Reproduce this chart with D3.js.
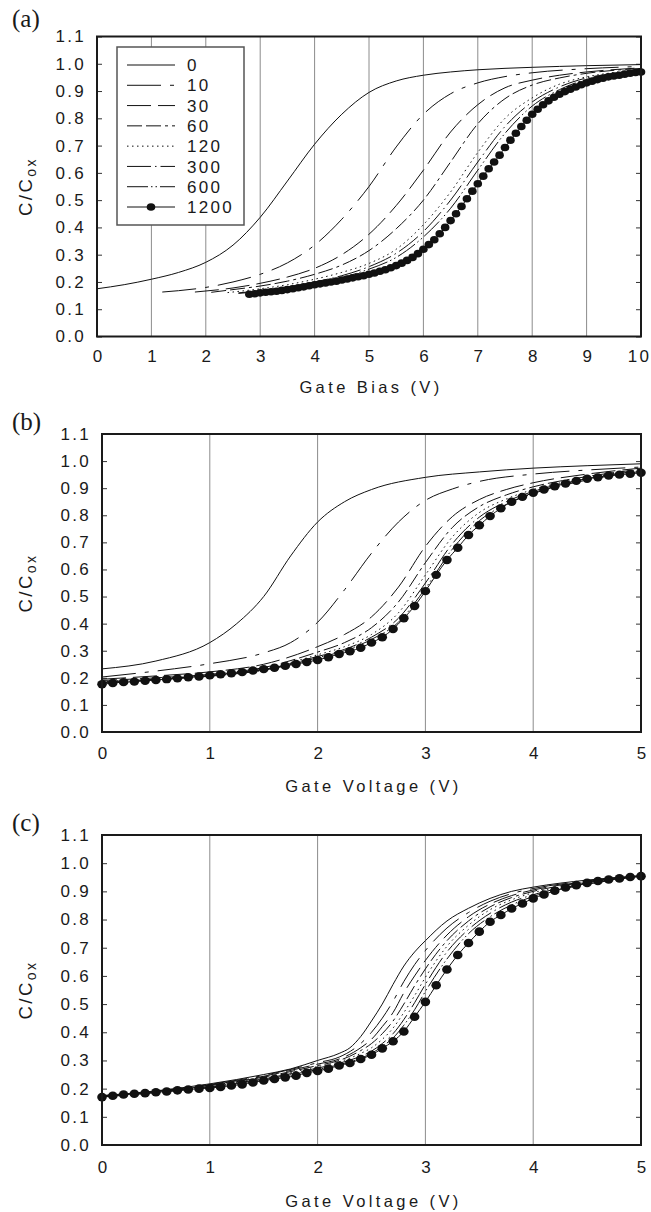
<!DOCTYPE html>
<html>
<head>
<meta charset="utf-8">
<script src="https://cdn.jsdelivr.net/npm/d3@7"></script>
<style>
  body { margin: 0; background: #fff; }
  svg text { font-family: "Liberation Sans", Arial, sans-serif; fill: #1a1a1a; }
</style>
</head>
<body>
<svg id="chart" width="651" height="1212"></svg>
<script>
// stress times (legend entries)
const seriesNames = ["0", "10", "30", "60", "120", "300", "600", "1200"];
const cTicks = [0, 0.1, 0.2, 0.3, 0.4, 0.5, 0.6, 0.7, 0.8, 0.9, 1.0, 1.1];
const biasTicks = [0, 1, 2, 3, 4, 5, 6, 7, 8, 9, 10];
const voltTicks = [0, 1, 2, 3, 4, 5];

// ---- panel (a): C/Cox vs gate bias ----
const a0 = [[0,.175],[0.5,.19],[1,.21],[1.5,.235],[2,.272],[2.5,.335],[3,.437],[3.5,.57],[4,.705],[4.5,.815],[5,.895],[5.5,.937],[6,.958],[6.5,.97],[7,.978],[8,.987],[9,.993],[10,.997]];
const a10 = [[1.2,.163],[1.5,.168],[2,.18],[2.5,.2],[3,.228],[3.5,.27],[4,.335],[4.5,.43],[5,.55],[5.5,.695],[6,.815],[6.5,.89],[7,.93],[7.5,.953],[8,.967],[9,.982],[10,.99]];
const a30 = [[1.8,.163],[2.5,.178],[3,.195],[3.5,.218],[4,.25],[4.5,.3],[5,.375],[5.5,.48],[6,.61],[6.5,.75],[7,.85],[7.5,.912],[8,.94],[8.5,.958],[9,.97],[10,.985]];
const a60 = [[2.1,.162],[2.5,.172],[3,.185],[3.5,.203],[4,.228],[4.5,.262],[5,.315],[5.5,.395],[6,.5],[6.5,.64],[7,.78],[7.5,.872],[8,.922],[8.5,.948],[9,.965],[10,.983]];
const a120 = [[2.4,.161],[3,.175],[3.5,.19],[4,.21],[4.5,.235],[5,.268],[5.5,.32],[6,.41],[6.5,.53],[7,.675],[7.5,.8],[8,.875],[8.5,.925],[9,.952],[9.5,.968],[10,.98]];
const a300 = [[2.6,.16],[3,.168],[3.5,.182],[4,.2],[4.5,.223],[5,.256],[5.5,.305],[6,.385],[6.5,.5],[7,.64],[7.5,.77],[8,.86],[8.5,.915],[9,.948],[9.5,.965],[10,.978]];
const a600 = [[2.6,.158],[3,.165],[3.5,.178],[4,.195],[4.5,.216],[5,.247],[5.5,.29],[6,.365],[6.5,.47],[7,.61],[7.5,.745],[8,.845],[8.5,.905],[9,.943],[9.5,.962],[10,.975]];
const a1200V = [2.8,2.9,3.0,3.1,3.2,3.3,3.4,3.5,3.6,3.7,3.8,3.9,4.0,4.1,4.2,4.3,4.4,4.5,4.6,4.7,4.8,4.9,5.0,5.1,5.2,5.3,5.4,5.5,5.6,5.7,5.8,5.9,6.0,6.1,6.2,6.3,6.4,6.5,6.6,6.7,6.8,6.9,7.0,7.1,7.2,7.3,7.4,7.5,7.6,7.7,7.8,7.9,8.0,8.1,8.2,8.3,8.4,8.5,8.6,8.7,8.8,8.9,9.0,9.1,9.2,9.3,9.4,9.5,9.6,9.7,9.8,9.9,10.0];
const a1200C = [.155,.157,.160,.162,.164,.166,.169,.172,.175,.179,.182,.186,.190,.193,.196,.200,.203,.207,.211,.215,.219,.223,.228,.233,.239,.245,.252,.260,.269,.279,.290,.304,.320,.337,.355,.377,.400,.425,.450,.477,.505,.533,.560,.588,.615,.640,.665,.693,.720,.745,.770,.793,.815,.833,.850,.864,.877,.888,.898,.907,.915,.923,.930,.936,.942,.947,.952,.955,.958,.962,.965,.968,.970];

// ---- panel (b): C/Cox vs gate voltage ----
const b0 = [[0,.233],[0.5,.262],[1,.33],[1.25,.4],[1.5,.5],[1.75,.65],[2,.775],[2.25,.85],[2.5,.895],[3,.94],[3.5,.96],[4,.974],[4.5,.983],[5,.99]];
const b10 = [[0,.203],[0.5,.225],[1,.252],[1.5,.292],[1.75,.33],[2,.405],[2.25,.525],[2.5,.66],[2.75,.775],[3,.855],[3.25,.897],[3.5,.925],[4,.952],[4.5,.967],[5,.978]];
const b30 = [[0,.195],[0.5,.207],[1,.222],[1.5,.25],[2,.315],[2.25,.36],[2.5,.425],[2.75,.535],[3,.685],[3.25,.795],[3.5,.858],[3.75,.895],[4,.92],[4.5,.952],[5,.974]];
const b60 = [[0,.19],[0.5,.2],[1,.213],[1.5,.238],[2,.295],[2.25,.33],[2.5,.385],[2.75,.48],[3,.625],[3.25,.755],[3.5,.832],[3.75,.875],[4,.905],[4.5,.943],[5,.97]];
const b120 = [[0,.186],[0.5,.197],[1,.21],[1.5,.233],[2,.285],[2.25,.315],[2.5,.36],[2.75,.44],[3,.58],[3.25,.72],[3.5,.81],[3.75,.86],[4,.895],[4.5,.938],[5,.968]];
const b300 = [[0,.184],[0.5,.195],[1,.208],[1.5,.23],[2,.279],[2.25,.305],[2.5,.35],[2.75,.42],[3,.55],[3.25,.695],[3.5,.793],[3.75,.85],[4,.888],[4.5,.935],[5,.965]];
const b600 = [[0,.182],[0.5,.193],[1,.206],[1.5,.228],[2,.274],[2.25,.3],[2.5,.342],[2.75,.405],[3,.53],[3.25,.675],[3.5,.78],[3.75,.84],[4,.88],[4.5,.93],[5,.962]];
const v1200 = [0.0,0.1,0.2,0.3,0.4,0.5,0.6,0.7,0.8,0.9,1.0,1.1,1.2,1.3,1.4,1.5,1.6,1.7,1.8,1.9,2.0,2.1,2.2,2.3,2.4,2.5,2.6,2.7,2.8,2.9,3.0,3.1,3.2,3.3,3.4,3.5,3.6,3.7,3.8,3.9,4.0,4.1,4.2,4.3,4.4,4.5,4.6,4.7,4.8,4.9,5.0];
const b1200C = [.176,.181,.184,.186,.189,.192,.195,.198,.202,.205,.209,.213,.217,.221,.227,.232,.237,.244,.251,.258,.266,.276,.288,.298,.311,.330,.350,.380,.420,.465,.520,.580,.635,.680,.727,.763,.797,.826,.850,.868,.883,.895,.907,.917,.927,.935,.940,.947,.950,.953,.957];

// ---- panel (c): C/Cox vs gate voltage ----
const c0 = [[0,.175],[0.5,.192],[1,.217],[1.5,.25],[1.75,.27],[2,.3],[2.2,.325],[2.3,.345],[2.4,.385],[2.5,.44],[2.6,.5],[2.7,.57],[2.8,.635],[2.9,.685],[3,.725],[3.2,.795],[3.4,.84],[3.6,.875],[3.8,.9],[4,.915],[4.5,.94],[5,.956]];
const c10 = [[0,.175],[0.5,.191],[1,.215],[1.5,.247],[2,.292],[2.2,.312],[2.4,.36],[2.5,.4],[2.6,.45],[2.7,.51],[2.8,.58],[2.9,.64],[3,.69],[3.2,.77],[3.4,.825],[3.6,.865],[3.8,.892],[4,.91],[4.5,.937],[5,.955]];
const c30 = [[0,.174],[0.5,.19],[1,.213],[1.5,.244],[2,.287],[2.2,.305],[2.4,.345],[2.5,.375],[2.6,.42],[2.7,.47],[2.8,.54],[2.9,.6],[3,.655],[3.2,.745],[3.4,.81],[3.6,.855],[3.8,.885],[4,.905],[4.5,.935],[5,.955]];
const c60 = [[0,.173],[0.5,.189],[1,.211],[1.5,.241],[2,.282],[2.2,.3],[2.4,.335],[2.5,.36],[2.6,.395],[2.7,.44],[2.8,.5],[2.9,.565],[3,.625],[3.2,.725],[3.4,.795],[3.6,.845],[3.8,.878],[4,.9],[4.5,.933],[5,.955]];
const c120 = [[0,.172],[0.5,.188],[1,.209],[1.5,.238],[2,.278],[2.2,.295],[2.4,.325],[2.5,.345],[2.6,.375],[2.7,.415],[2.8,.47],[2.9,.53],[3,.595],[3.2,.705],[3.4,.78],[3.6,.835],[3.8,.87],[4,.895],[4.5,.93],[5,.954]];
const c300 = [[0,.171],[0.5,.187],[1,.207],[1.5,.235],[2,.273],[2.2,.29],[2.4,.315],[2.5,.333],[2.6,.36],[2.7,.395],[2.8,.445],[2.9,.505],[3,.57],[3.2,.685],[3.4,.765],[3.6,.822],[3.8,.862],[4,.888],[4.5,.928],[5,.954]];
const c600 = [[0,.17],[0.5,.186],[1,.205],[1.5,.232],[2,.268],[2.2,.285],[2.4,.308],[2.5,.325],[2.6,.35],[2.7,.38],[2.8,.425],[2.9,.48],[3,.545],[3.2,.66],[3.4,.75],[3.6,.81],[3.8,.852],[4,.882],[4.5,.925],[5,.954]];
const c1200C = [.170,.175,.179,.182,.184,.187,.190,.194,.197,.200,.202,.206,.211,.215,.222,.229,.234,.240,.246,.256,.263,.271,.282,.291,.305,.320,.343,.368,.403,.455,.508,.567,.623,.674,.717,.757,.792,.816,.839,.857,.875,.889,.902,.914,.922,.930,.937,.942,.946,.951,.954];

// line dash per series (style, not data)
const dashes = {
  "0": null, "10": "34,9,4,9", "30": "24,7", "60": "15,4,15,4,3,4",
  "120": "1.5,3.5", "300": "24,4,1.5,4", "600": "21,3,1.5,3,1.5,3", "1200": null
};

const svg = d3.select("#chart");
const TICK_FONT = 17, TICK_LS = 2.3, TITLE_FONT = 16.5, TITLE_LS = 3.4;

const panels = [
  { id: "a", label: "(a)", labelY: 27, xTicks: biasTicks, title: "Gate Bias (V)",
    left: 97, right: 641, top: 36.5, bottom: 336.5, tickY: 362, titleY: 393,
    curves: [a0, a10, a30, a60, a120, a300, a600], dotsV: a1200V, dotsC: a1200C,
    rx: 4.3, ry: 3.8, legend: true },
  { id: "b", label: "(b)", labelY: 430, xTicks: voltTicks, title: "Gate Voltage (V)",
    left: 102, right: 641, top: 434, bottom: 732, tickY: 759, titleY: 792,
    curves: [b0, b10, b30, b60, b120, b300, b600], dotsV: v1200, dotsC: b1200C,
    rx: 4.8, ry: 4.2 },
  { id: "c", label: "(c)", labelY: 831, xTicks: voltTicks, title: "Gate Voltage (V)",
    left: 102, right: 641, top: 835, bottom: 1145, tickY: 1173, titleY: 1207,
    curves: [c0, c10, c30, c60, c120, c300, c600], dotsV: v1200, dotsC: c1200C,
    rx: 4.8, ry: 4.3 }
];

panels.forEach(p => {
  const xMax = p.xTicks[p.xTicks.length - 1];
  const x = d3.scaleLinear().domain([0, xMax]).range([p.left, p.right]);
  const y = d3.scaleLinear().domain([0, 1.1]).range([p.bottom, p.top]);
  const g = svg.append("g");

  // vertical grid lines
  g.selectAll("line.grid")
    .data(p.xTicks.slice(1, -1))
    .join("line")
    .attr("x1", d => x(d)).attr("x2", d => x(d))
    .attr("y1", p.top).attr("y2", p.bottom)
    .attr("stroke", "#8c8c8c").attr("stroke-width", 1);

  // left axis, inward ticks
  const yAx = g.append("g")
    .attr("transform", `translate(${p.left},0)`)
    .call(d3.axisLeft(y).tickValues(cTicks).tickFormat(d3.format(".1f")).tickSize(-5).tickPadding(11));
  yAx.select(".domain").remove();
  yAx.selectAll("line").attr("stroke", "#333");
  yAx.selectAll("text")
    .attr("font-size", TICK_FONT).attr("letter-spacing", TICK_LS)
    .attr("font-family", null).attr("fill", "#1a1a1a");

  // right axis, inward ticks
  const rAx = g.append("g")
    .attr("transform", `translate(${p.right},0)`)
    .call(d3.axisRight(y).tickValues(cTicks).tickFormat("").tickSize(-5));
  rAx.select(".domain").remove();
  rAx.selectAll("line").attr("stroke", "#333");

  // bottom axis labels
  const xAx = g.append("g")
    .attr("transform", `translate(0,${p.bottom})`)
    .call(d3.axisBottom(x).tickValues(p.xTicks).tickFormat(d3.format("d")).tickSize(0).tickPadding(0));
  xAx.select(".domain").remove();
  xAx.selectAll("text")
    .attr("y", p.tickY - p.bottom).attr("dy", null)
    .attr("font-size", TICK_FONT).attr("letter-spacing", TICK_LS)
    .attr("font-family", null).attr("fill", "#1a1a1a")
    .attr("dx", d => d >= 10 ? -2 : TICK_LS / 2);

  // clip
  svg.append("clipPath").attr("id", "clip-" + p.id)
    .append("rect")
    .attr("x", p.left).attr("y", p.top - 2)
    .attr("width", p.right - p.left + 6).attr("height", p.bottom - p.top + 2);

  const line = d3.line()
    .x(d => x(d[0])).y(d => y(d[1]))
    .curve(d3.curveMonotoneX);

  const plot = g.append("g").attr("clip-path", `url(#clip-${p.id})`);
  plot.selectAll("path.curve")
    .data(p.curves)
    .join("path")
    .attr("d", line)
    .attr("fill", "none")
    .attr("stroke", "#111")
    .attr("stroke-width", 1)
    .attr("stroke-dasharray", (d, i) => dashes[seriesNames[i]]);

  const dotPts = p.dotsV.map((v, i) => [v, p.dotsC[i]]);
  plot.append("path")
    .attr("d", line(dotPts))
    .attr("fill", "none").attr("stroke", "#111").attr("stroke-width", 1);
  const dotG = g.append("g");
  dotG.selectAll("ellipse")
    .data(dotPts)
    .join("ellipse")
    .attr("cx", d => x(d[0])).attr("cy", d => y(d[1]))
    .attr("rx", p.rx).attr("ry", p.ry)
    .attr("fill", "#111");

  // frame
  g.append("rect")
    .attr("x", p.left).attr("y", p.top)
    .attr("width", p.right - p.left).attr("height", p.bottom - p.top)
    .attr("fill", "none").attr("stroke", "#1a1a1a").attr("stroke-width", 2);

  // panel tag
  svg.append("text")
    .attr("x", 12).attr("y", p.labelY)
    .style("font-family", "'Liberation Serif', 'Times New Roman', serif")
    .attr("font-size", 25)
    .text(p.label);

  // x title
  svg.append("text")
    .attr("x", (p.left + p.right) / 2 + 2).attr("y", p.titleY)
    .attr("text-anchor", "middle")
    .attr("font-size", TITLE_FONT).attr("letter-spacing", TITLE_LS)
    .text(p.title);

  // y title C/Cox
  const yt = svg.append("text")
    .attr("transform", `translate(32,${(p.top + p.bottom) / 2}) rotate(-90)`)
    .attr("text-anchor", "middle")
    .attr("font-size", 18.5).attr("letter-spacing", 2.5);
  yt.append("tspan").text("C/C");
  yt.append("tspan").attr("font-size", 14).attr("dy", 4).text("ox");

  // legend
  if (p.legend) {
    const lg = svg.append("g");
    lg.append("rect")
      .attr("x", 117).attr("y", 47).attr("width", 127).attr("height", 178)
      .attr("fill", "#fff").attr("stroke", "#555").attr("stroke-width", 1.5);
    const ly = d3.scalePoint().domain(seriesNames).range([65, 207]);
    const items = lg.selectAll("g.item").data(seriesNames).join("g");
    items.append("line")
      .attr("x1", 127).attr("x2", 175)
      .attr("y1", d => ly(d)).attr("y2", d => ly(d))
      .attr("stroke", "#111").attr("stroke-width", 1)
      .attr("stroke-dasharray", d => dashes[d]);
    items.filter(d => d === "1200").append("ellipse")
      .attr("cx", 151).attr("cy", d => ly(d))
      .attr("rx", 4.3).attr("ry", 3.8).attr("fill", "#111");
    items.append("text")
      .attr("x", 187).attr("y", d => ly(d))
      .attr("dy", "0.36em")
      .attr("font-size", TICK_FONT).attr("letter-spacing", TICK_LS)
      .text(d => d);
  }
});
</script>
</body>
</html>
